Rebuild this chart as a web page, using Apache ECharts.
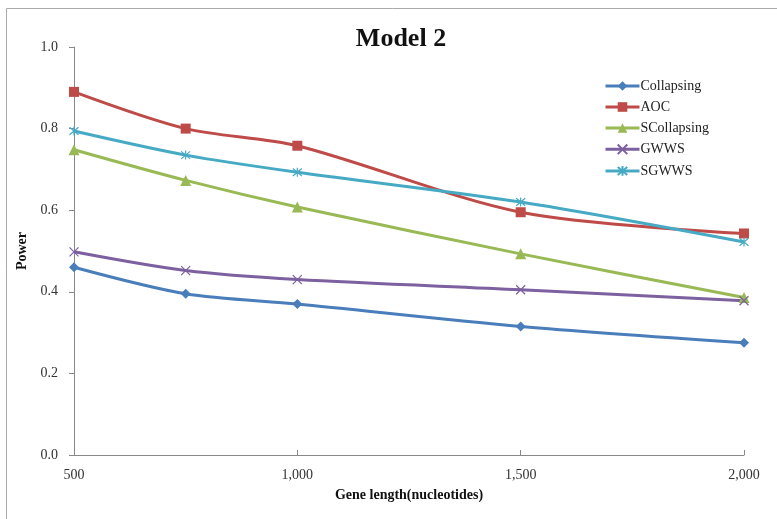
<!DOCTYPE html>
<html>
<head>
<meta charset="utf-8">
<script src="https://cdn.jsdelivr.net/npm/echarts@6/dist/echarts.min.js"></script>
<style>
  html, body { margin: 0; padding: 0; background: #fff; }
  #main { width: 777px; height: 519px; }
</style>
</head>
<body>
<div id="main"></div>
<script>
// gene length (x) and power per method
var geneLength = [500, 750, 1000, 1500, 2000];
var collapsing = [0.46, 0.395, 0.37, 0.315, 0.275];
var aoc = [0.89, 0.80, 0.758, 0.595, 0.543];
var sCollapsing = [0.748, 0.673, 0.608, 0.493, 0.386];
var gwws = [0.498, 0.452, 0.43, 0.405, 0.378];
var sgwws = [0.794, 0.735, 0.693, 0.62, 0.522];
var xTicks = [500, 1000, 1500, 2000];

var serif = 'Liberation Serif';
var crossPath = 'path://M0,0L10,10M10,0L0,10';
var starPath = 'path://M0,0L10,10M10,0L0,10M5,-1L5,11';

function pairs(ys) {
    return geneLength.map(function (x, i) { return [x, ys[i]]; });
}

function mkSeries(name, ys, color, symbol, stroke) {
    var s = {
        name: name,
        type: 'line',
        data: pairs(ys),
        smooth: 0.3,
        symbol: symbol,
        symbolSize: symbol === 'triangle' ? 11 : 10,
        lineStyle: { color: color, width: 3 },
        itemStyle: { color: color }
    };
    if (stroke) {
        s.symbolSize = 9;
        s.itemStyle = { color: 'none', borderColor: color, borderWidth: 1.2 };
    }
    return s;
}

var myChart = echarts.init(document.getElementById('main'));

var option = {
    backgroundColor: '#fff',
    animation: false,
    title: {
        text: 'Model 2',
        left: 396,
        top: 21,
        textAlign: 'center',
        textStyle: { fontFamily: serif, fontSize: 26, fontWeight: 'bold', color: '#111' }
    },
    graphic: [{
        type: 'rect',
        shape: { x: 6.5, y: 8.5, width: 800, height: 600 },
        style: { fill: 'none', stroke: '#aaa', lineWidth: 1 },
        silent: true
    }],
    legend: {
        orient: 'vertical',
        left: 599,
        top: 74,
        itemWidth: 34,
        itemHeight: 12,
        itemGap: 7,
        lineStyle: { width: 3 },
        textStyle: { fontFamily: serif, fontSize: 14, lineHeight: 14, color: '#222', padding: [0, 0, 0, -4] }
    },
    grid: { left: 74, right: 33, top: 47, bottom: 64 },
    xAxis: {
        type: 'value',
        min: 500,
        max: 2000,
        interval: 500,
        name: 'Gene length(nucleotides)',
        nameLocation: 'middle',
        nameGap: 33,
        nameTextStyle: { fontFamily: serif, fontSize: 14, fontWeight: 'bold', color: '#111' },
        axisLine: { lineStyle: { color: '#888' } },
        axisTick: { show: true, inside: true, length: 5, lineStyle: { color: '#888' } },
        splitLine: { show: false },
        axisLabel: {
            fontFamily: serif, fontSize: 14, color: '#333', margin: 13,
            formatter: function (v) {
                return xTicks.indexOf(v) >= 0 ? v.toLocaleString('en-US') : '';
            }
        }
    },
    yAxis: {
        type: 'value',
        min: 0,
        max: 1,
        interval: 0.2,
        name: 'Power',
        nameLocation: 'middle',
        nameGap: 44,
        nameTextStyle: { fontFamily: serif, fontSize: 14, fontWeight: 'bold', color: '#111' },
        axisLine: { show: true, lineStyle: { color: '#888' } },
        axisTick: { show: true, length: 5, lineStyle: { color: '#888' } },
        splitLine: { show: false },
        axisLabel: {
            fontFamily: serif, fontSize: 14, color: '#333', margin: 16,
            formatter: function (v) { return v.toFixed(1); }
        }
    },
    series: [
        mkSeries('Collapsing', collapsing, '#4a7ebb', 'diamond'),
        mkSeries('AOC', aoc, '#be4b48', 'rect'),
        mkSeries('SCollapsing', sCollapsing, '#98b954', 'triangle'),
        mkSeries('GWWS', gwws, '#7d60a0', crossPath, true),
        mkSeries('SGWWS', sgwws, '#46aac5', starPath, true)
    ]
};

myChart.setOption(option);
</script>
</body>
</html>
